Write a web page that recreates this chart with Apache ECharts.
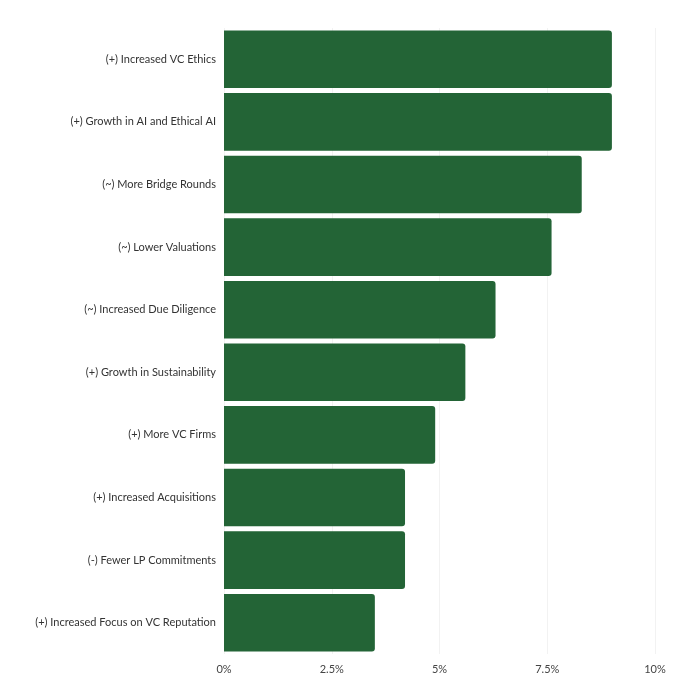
<!DOCTYPE html>
<html><head><meta charset="utf-8">
<script src="https://cdn.jsdelivr.net/npm/echarts@6/dist/echarts.min.js"></script>
<style>html,body{margin:0;padding:0;background:#fff}#c{width:700px;height:700px}</style>
</head><body><div id="c"></div>
<script>
const categories = ["(+) Increased VC Ethics","(+) Growth in AI and Ethical AI","(~) More Bridge Rounds","(~) Lower Valuations","(~) Increased Due Diligence","(+) Growth in Sustainability","(+) More VC Firms","(+) Increased Acquisitions","(-) Fewer LP Commitments","(+) Increased Focus on VC Reputation"];
const values = [9.0, 9.0, 8.3, 7.6, 6.3, 5.6, 4.9, 4.2, 4.2, 3.5];
const xTicks = [0, 2.5, 5, 7.5, 10];
const chart = echarts.init(document.getElementById('c'));
chart.setOption({
  animation:false,
  textStyle:{fontFamily:'Lato'},
  grid:{left:224,right:45,top:28,bottom:46},
  xAxis:{type:'value',min:0,max:10,interval:2.5,
    axisLabel:{formatter:v=>v+'%',color:'#444',fontSize:11,margin:10},
    splitLine:{lineStyle:{color:'#f2f2f2'}},axisLine:{show:false},axisTick:{show:false}},
  yAxis:{type:'category',inverse:true,data:categories,
    axisLabel:{color:'#333',fontSize:11,margin:8},
    axisLine:{show:false},axisTick:{show:false}},
  series:[{type:'bar',data:values,barCategoryGap:'8%',
    itemStyle:{color:'#236436',borderRadius:[0,3,3,0]}}]
});
</script></body></html>
